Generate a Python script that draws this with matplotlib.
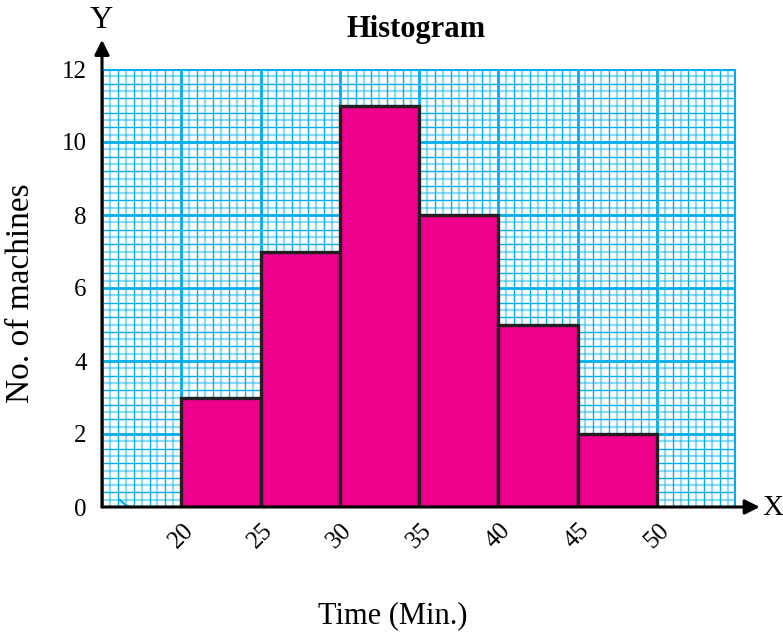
import matplotlib
matplotlib.use("Agg")
import matplotlib.pyplot as plt
import matplotlib.transforms as mtransforms
import numpy as np

bin_edges = [20, 25, 30, 35, 40, 45, 50]
counts = [3, 7, 11, 8, 5, 2]
x_ticks = [20, 25, 30, 35, 40, 45, 50]
y_ticks = [0, 2, 4, 6, 8, 10, 12]

plt.rcParams['font.family'] = ['Liberation Serif', 'DejaVu Serif']

W, H = 783, 636
fig = plt.figure(figsize=(W / 100, H / 100), dpi=100)
ax = fig.add_axes([102 / W, 1 - 507 / H, (736 - 102) / W, (507 - 69) / H])

xmin, xmax, ymin, ymax = 15, 55, 0, 12
ax.set_xlim(xmin, xmax)
ax.set_ylim(ymin, ymax)

cyan = '#00AEEF'
# graph paper grid
for xv in np.arange(xmin, xmax + 0.01, 0.5):
    k = round((xv - xmin) / 0.5)
    if k % 10 == 0:
        ax.axvline(xv, color=cyan, lw=2.0, zorder=1)
    elif k % 2 == 0:
        ax.axvline(xv, color=cyan, lw=1.0, zorder=1)
    else:
        ax.axvline(xv, color=cyan, lw=1.6, alpha=0.45, zorder=1)
for yv in np.arange(ymin, ymax + 0.01, 0.2):
    k = round((yv - ymin) / 0.2)
    if k % 10 == 0:
        ax.axhline(yv, color=cyan, lw=2.0, zorder=1)
    elif k % 2 == 0:
        ax.axhline(yv, color=cyan, lw=1.0, zorder=1)
    else:
        ax.axhline(yv, color=cyan, lw=1.6, alpha=0.45, zorder=1)
ax.axhline(ymax, color=cyan, lw=3, zorder=2)
ax.axvline(xmax, color=cyan, lw=3, zorder=2)

ax.bar(bin_edges[:-1], counts, width=np.diff(bin_edges), align='edge',
       color='#EC008C', edgecolor='#231F20', linewidth=2.4, zorder=3)

for s in ax.spines.values():
    s.set_visible(False)

# axes with arrows
ax.annotate('', xy=(56.5, 0), xytext=(xmin, 0), xycoords='data',
            arrowprops=dict(arrowstyle='-|>', color='black', lw=2.2,
                            mutation_scale=22, shrinkA=0, shrinkB=0),
            annotation_clip=False, zorder=5)
ax.annotate('', xy=(xmin, 12.8), xytext=(xmin, 0), xycoords='data',
            arrowprops=dict(arrowstyle='-|>', color='black', lw=2.2,
                            mutation_scale=22, shrinkA=0, shrinkB=0),
            annotation_clip=False, zorder=5)
fig.text(762 / W, 1 - 508 / H, 'X', fontsize=21, va='center', ha='left')
fig.text(101 / W, 1 - 21 / H, 'Y', fontsize=23, va='center', ha='center')

# small kink mark near origin
ax.plot([16.1, 16.5, 16.8], [0.2, 0.05, 0.0], color=cyan, lw=1.5, zorder=4, clip_on=False)

ax.set_xticks(x_ticks)
ax.set_xticklabels([str(v) for v in x_ticks], rotation=45, fontsize=18,
                   ha='center', va='top')
offset = mtransforms.ScaledTranslation(4 / 100, 0, fig.dpi_scale_trans)
for lbl in ax.get_xticklabels():
    lbl.set_transform(lbl.get_transform() + offset)
ax.set_yticks(y_ticks)
ax.set_yticklabels([str(v) for v in y_ticks], fontsize=18)
ax.tick_params(length=0)
ax.tick_params(axis='y', pad=11)
ax.tick_params(axis='x', pad=9)

fig.text(416 / W, 1 - 30 / H, 'Histogram', fontsize=22, fontweight='bold',
         ha='center', va='center')
fig.text(393 / W, 1 - 616 / H, 'Time (Min.)', fontsize=22, ha='center', va='center')
fig.text(21 / W, 1 - 293 / H, 'No. of machines', fontsize=24, rotation=90,
         ha='center', va='center')

fig.savefig('out.png', dpi=100)
